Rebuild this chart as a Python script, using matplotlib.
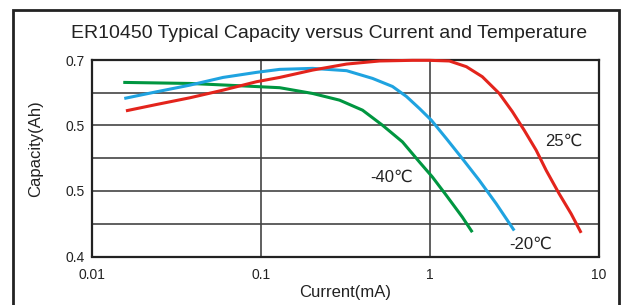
import matplotlib
matplotlib.use("Agg")
import matplotlib.pyplot as plt
from matplotlib.patches import Rectangle

plt.rcParams['font.family'] = ['Liberation Sans', 'DejaVu Sans']

# Data (current in mA, capacity in Ah)
current_m40 = [0.01531, 0.03792, 0.07483, 0.1290, 0.2020, 0.2916, 0.3988, 0.5234,
               0.6871, 0.8658, 1.033, 1.250, 1.554, 1.780]
cap_m40 = [0.6658, 0.6642, 0.6607, 0.6577, 0.6489, 0.6387, 0.6234, 0.6004,
           0.5750, 0.5443, 0.5214, 0.4932, 0.4601, 0.4371]

current_m20 = [0.01552, 0.02412, 0.03792, 0.05964, 0.09393, 0.1290, 0.2020, 0.3209,
               0.4569, 0.5996, 0.7255, 0.8658, 1.019, 1.250, 1.554, 1.958, 2.467, 3.151]
cap_m20 = [0.6413, 0.6515, 0.6616, 0.6734, 0.6811, 0.6857, 0.6872, 0.6837,
           0.6719, 0.6596, 0.6443, 0.6260, 0.6080, 0.5800, 0.5494, 0.5162, 0.4805, 0.4396]

current_25 = [0.01588, 0.02412, 0.03792, 0.05964, 0.09393, 0.1290, 0.2020, 0.3209,
              0.5027, 0.7870, 0.992, 1.302, 1.641, 2.039, 2.570, 3.067, 3.611, 4.252,
              4.870, 5.811, 6.843, 7.841]
cap_25 = [0.6224, 0.6321, 0.6423, 0.6540, 0.6668, 0.6734, 0.6846, 0.6938,
          0.6985, 0.6995, 0.6995, 0.6985, 0.6898, 0.6745, 0.6489, 0.6214, 0.5927, 0.5621,
          0.5315, 0.4958, 0.4652, 0.4361]

series_labels = ["-40\u2103", "-20\u2103", "25\u2103"]
label_pos = [(0.592, 0.5203), (3.92, 0.4192), (6.22, 0.5754)]
colors = ["#009640", "#1fa3e0", "#e3241c"]

xticks = [0.01, 0.1, 1, 10]
xtick_labels = ["0.01", "0.1", "1", "10"]
yticks = [0.4, 0.5, 0.6, 0.7]
ytick_labels = ["0.4", "0.5", "0.5", "0.7"]
ygrid = [0.45, 0.5, 0.55, 0.6, 0.65]
xgrid = [0.1, 1]

fig = plt.figure(figsize=(6.26, 3.05), dpi=100)
ax = fig.add_axes([92/626, 1-256.5/305, (599-92)/626, (256.5-60)/305])

# outer frame
fig.patches.append(Rectangle((13/626, -0.1), (619-13)/626, 1.1 - 10/305,
                             transform=fig.transFigure, fill=False,
                             edgecolor="#222222", linewidth=2.0, clip_on=False))

for xs, ys, c in zip([current_m40, current_m20, current_25],
                     [cap_m40, cap_m20, cap_25], colors):
    ax.plot(xs, ys, color=c, linewidth=2.2, solid_capstyle='butt',
            solid_joinstyle='round', zorder=4, clip_on=False)

for lab, (lx, ly) in zip(series_labels, label_pos):
    ax.text(lx, ly, lab, ha='center', va='center', fontsize=12, color="#222222")

ax.set_xscale('log')
ax.set_xlim(0.01, 10)
ax.set_ylim(0.4, 0.7)
ax.set_xticks(xticks)
ax.set_xticklabels(xtick_labels)
ax.minorticks_off()
ax.set_yticks(yticks)
ax.set_yticklabels(ytick_labels)
ax.tick_params(length=0, labelsize=10, colors="#222222")
ax.tick_params(axis='y', pad=5)
ax.tick_params(axis='x', pad=8)

for g in ygrid:
    ax.axhline(g, color="#444444", linewidth=1.2, zorder=1)
for g in xgrid:
    ax.axvline(g, color="#444444", linewidth=1.2, zorder=1)

for s in ax.spines.values():
    s.set_linewidth(1.6)
    s.set_color("#222222")
    s.set_zorder(3)

ax.set_xlabel("Current(mA)", fontsize=12, color="#222222")
ax.set_ylabel("Capacity(Ah)", fontsize=12, color="#222222")
ax.xaxis.set_label_coords(0.5, -0.145)
ax.yaxis.set_label_coords(-0.097, 0.55)

fig.text(329/626, 1-34/305, "ER10450 Typical Capacity versus Current and Temperature",
         ha='center', va='center', fontsize=14, color="#222222")

fig.savefig("out.png", dpi=100)
